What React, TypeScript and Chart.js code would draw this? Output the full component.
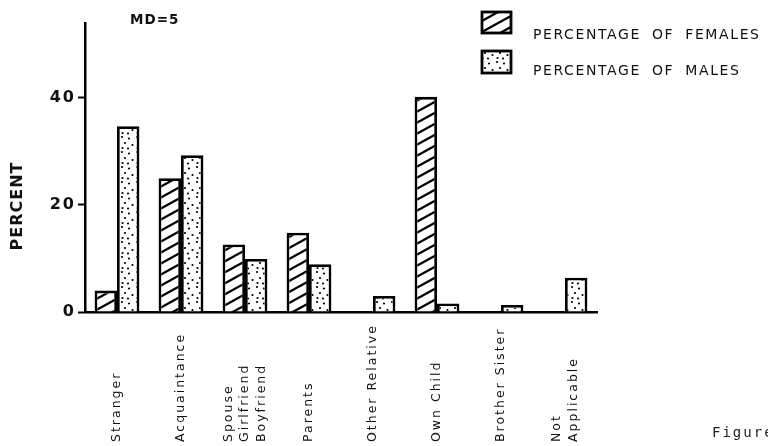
import React, { useEffect, useRef } from "react";
import { Chart, registerables } from "chart.js";

Chart.register(...registerables);

// ---- data ----
const categories: string[][] = [
  ["Stranger"],
  ["Acquaintance"],
  ["Spouse", "Girlfriend", "Boyfriend"],
  ["Parents"],
  ["Other Relative"],
  ["Own Child"],
  ["Brother Sister"],
  ["Not", "Applicable"],
];
const femalePercent = [4, 25, 12.6, 14.8, 0, 40.2, 0, 0];
const malePercent = [34.7, 29.3, 9.9, 8.9, 3.0, 1.6, 1.3, 6.4];
const yTicks = [0, 20, 40];
const seriesLabels = ["PERCENTAGE OF FEMALES", "PERCENTAGE OF MALES"];
const noteText = "MD=5";
const yTitleText = "PERCENT";
const captionText = "Figure";

function makeHatch(ctx: CanvasRenderingContext2D) {
  const c = document.createElement("canvas");
  c.width = 20;
  c.height = 11;
  const g = c.getContext("2d")!;
  g.fillStyle = "#fff";
  g.fillRect(0, 0, 20, 11);
  g.strokeStyle = "#000";
  g.lineWidth = 2.3;
  for (const dy of [-11, 0, 11]) {
    g.beginPath();
    g.moveTo(-2, 12.1 + dy);
    g.lineTo(22, -1.1 + dy);
    g.stroke();
  }
  return ctx.createPattern(c, "repeat");
}

function makeDots(ctx: CanvasRenderingContext2D) {
  const c = document.createElement("canvas");
  c.width = 15;
  c.height = 15;
  const g = c.getContext("2d")!;
  g.fillStyle = "#fff";
  g.fillRect(0, 0, 15, 15);
  g.fillStyle = "#000";
  const pts = [
    [2, 2],
    [9, 3.5],
    [5, 8],
    [12.5, 10],
    [2.5, 13],
    [8, 13.5],
  ];
  for (const [x, y] of pts) {
    g.beginPath();
    g.arc(x, y, 1.1, 0, Math.PI * 2);
    g.fill();
  }
  return ctx.createPattern(c, "repeat");
}

const decorPlugin = {
  id: "decor",
  beforeDraw(chart: any) {
    chart.ctx.letterSpacing = "2px";
  },
  afterDraw(chart: any) {
    const { ctx, scales } = chart;
    const xs = scales.x;
    ctx.save();
    ctx.fillStyle = "#111";

    // category labels, rotated, starting from the bottom
    ctx.font = '12.5px "DejaVu Sans"';
    ctx.letterSpacing = "2px";
    ctx.textAlign = "left";
    ctx.textBaseline = "middle";
    categories.forEach((lines, i) => {
      const px = xs.getPixelForValue(i);
      ctx.save();
      ctx.translate(px, 442);
      ctx.rotate(-Math.PI / 2);
      lines.forEach((ln, j) => {
        ctx.fillText(ln, 0, (j - (lines.length - 1) / 2) * 16.5);
      });
      ctx.restore();
    });

    // y title
    ctx.save();
    ctx.font = 'bold 16px "DejaVu Sans"';
    ctx.letterSpacing = "1px";
    ctx.textAlign = "center";
    ctx.textBaseline = "middle";
    ctx.translate(18, 206);
    ctx.rotate(-Math.PI / 2);
    ctx.fillText(yTitleText, 0, 0);
    ctx.restore();

    // note
    ctx.font = 'bold 13.5px "DejaVu Sans"';
    ctx.letterSpacing = "1px";
    ctx.textAlign = "left";
    ctx.textBaseline = "alphabetic";
    ctx.fillText(noteText, 130, 24);

    // legend
    const ds = chart.data.datasets;
    const boxes = [
      { y: 12, h: 21, base: 39 },
      { y: 51, h: 22, base: 75 },
    ];
    ds.forEach((d: any, k: number) => {
      const b = boxes[k];
      ctx.fillStyle = d.backgroundColor;
      ctx.fillRect(482, b.y, 29, b.h);
      ctx.strokeStyle = "#000";
      ctx.lineWidth = 2.8;
      ctx.strokeRect(482, b.y, 29, b.h);
      ctx.fillStyle = "#111";
      ctx.font = '500 14px "DejaVu Sans"';
      ctx.letterSpacing = "1.6px";
      (ctx as any).wordSpacing = "5px";
      ctx.fillText(d.label, 533, b.base);
      (ctx as any).wordSpacing = "0px";
    });

    // caption
    ctx.font = '14px "DejaVu Sans Mono"';
    ctx.letterSpacing = "2px";
    ctx.fillStyle = "#222";
    ctx.fillText(captionText, 712, 437);

    ctx.restore();
  },
};

export default function App() {
  const ref = useRef<HTMLCanvasElement | null>(null);

  useEffect(() => {
    const canvas = ref.current!;
    const ctx = canvas.getContext("2d")!;
    const hatch = makeHatch(ctx);
    const dots = makeDots(ctx);

    const chart = new Chart(canvas, {
      type: "bar",
      data: {
        labels: categories,
        datasets: [
          {
            label: seriesLabels[0],
            data: femalePercent,
            backgroundColor: hatch as any,
            borderColor: "#000",
            borderWidth: 2.8,
            categoryPercentage: 0.7,
            barPercentage: 1.0,
          },
          {
            label: seriesLabels[1],
            data: malePercent,
            backgroundColor: dots as any,
            borderColor: "#000",
            borderWidth: 2.8,
            categoryPercentage: 0.7,
            barPercentage: 1.0,
          },
        ],
      },
      options: {
        responsive: false,
        animation: false,
        devicePixelRatio: 1,
        layout: { padding: { left: 0, right: 171, top: 23, bottom: 0 } },
        plugins: {
          legend: { display: false },
          tooltip: { enabled: false },
          title: { display: false },
        },
        scales: {
          x: {
            type: "category",
            offset: true,
            ticks: { display: false },
            grid: { display: false, drawOnChartArea: false, drawTicks: false },
            border: { display: true, color: "#000", width: 2.5 },
            afterFit: (s: any) => {
              s.height = 134;
            },
          },
          y: {
            min: 0,
            max: 54,
            afterBuildTicks: (s: any) => {
              s.ticks = yTicks.map((v) => ({ value: v }));
            },
            ticks: {
              color: "#111",
              padding: 2,
              font: { family: "DejaVu Sans", size: 16, weight: "bold" },
            },
            grid: {
              drawOnChartArea: false,
              drawTicks: true,
              tickLength: 7,
              tickWidth: 2,
              color: "#000",
            },
            border: { display: true, color: "#000", width: 2.5 },
            afterFit: (s: any) => {
              s.width = 85;
            },
          },
        },
      },
      plugins: [decorPlugin],
    });

    return () => chart.destroy();
  }, []);

  return (
    <div style={{ position: "fixed", left: 0, top: 0, width: 768, height: 446, background: "#fff" }}>
      <canvas ref={ref} width={768} height={446} style={{ display: "block" }} />
    </div>
  );
}
